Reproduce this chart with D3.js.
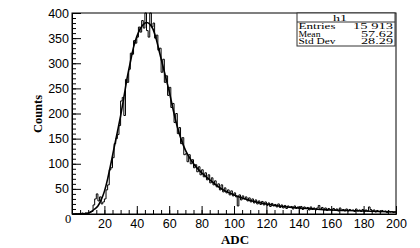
<!DOCTYPE html>
<html>
<head>
<meta charset="utf-8">
<script src="https://cdn.jsdelivr.net/npm/d3@7"></script>
<style>
  body { margin: 0; background: #fff; }
  svg { display: block; font-family: "Liberation Serif", "DejaVu Serif", serif; }
</style>
</head>
<body>
<div id="chart"></div>
<script>
// ADC histogram, one count per unit bin (0..199)
const counts = [
  0, 0, 1, 0, 1, 0, 2, 1, 2, 1,
  2, 4, 5, 18, 30, 40, 26, 34, 20, 24,
  30, 48, 58, 88, 92, 112, 140, 150, 158, 176,
  225, 232, 196, 268, 262, 288, 320, 318, 345, 340,
  352, 372, 362, 385, 370, 400, 365, 352, 400, 372,
  380, 350, 356, 326, 330, 282, 308, 262, 275, 236,
  252, 212, 220, 182, 200, 160, 172, 140, 152, 118,
  120, 104, 118, 100, 108, 92, 98, 84, 94, 78,
  88, 74, 82, 68, 78, 62, 72, 58, 66, 54,
  60, 48, 58, 44, 52, 42, 48, 38, 46, 36,
  42, 34, 16, 38, 28, 36, 30, 34, 26, 32,
  24, 30, 22, 28, 20, 26, 19, 25, 18, 24,
  17, 22, 15, 21, 16, 19, 14, 20, 13, 18,
  12, 17, 11, 16, 13, 15, 10, 16, 11, 14,
  10, 15, 9, 14, 11, 13, 8, 14, 9, 12,
  8, 12, 17, 9, 13, 8, 12, 7, 11, 9,
  7, 11, 8, 10, 6, 12, 7, 9, 6, 10,
  6, 9, 7, 8, 5, 10, 6, 8, 5, 9,
  5, 8, 6, 14, 9, 5, 8, 4, 7, 5,
  4, 7, 5, 6, 3, 6, 4, 5, 3, 4
];

// fitted curve
const fitX = [0, 5, 10, 12, 14, 16, 18, 20, 22, 24, 26, 28, 30, 32, 34, 36, 38, 40, 42, 44, 46, 48,
  50, 52, 54, 56, 58, 60, 62, 64, 66, 68, 70, 72, 75, 80, 85, 90, 95, 100, 105, 110, 115, 120,
  130, 140, 150, 160, 170, 180, 190, 200];
const fitY = [0, 0, 2, 5, 10, 16, 28, 45, 70, 100, 132, 163, 195, 232, 270, 302, 332, 353, 368, 377, 381, 378,
  368, 348, 322, 296, 270, 244, 214, 186, 162, 143, 127, 115, 100, 82, 68, 55, 45, 38, 32, 27, 23, 20,
  15, 12, 10, 8, 7, 6, 5, 4];

const xTicks = [20, 40, 60, 80, 100, 120, 140, 160, 180, 200];
const yTicks = [50, 100, 150, 200, 250, 300, 350, 400];

const statLabels = ["Entries", "Mean", "Std Dev"];
const statValues = ["15 913", "57.62", "28.29"];

const width = 420, height = 248;
const plotL = 72, plotR = 396, plotT = 13, plotB = 214;

const x = d3.scaleLinear().domain([0, 200]).range([plotL, plotR]);
const y = d3.scaleLinear().domain([0, 400]).range([plotB, plotT]);

const svg = d3.select("#chart").append("svg")
  .attr("width", width)
  .attr("height", height)
  .style("background", "#fff");

// frame
svg.append("rect")
  .attr("x", plotL).attr("y", plotT)
  .attr("width", plotR - plotL).attr("height", plotB - plotT)
  .attr("fill", "none").attr("stroke", "#000").attr("stroke-width", 1);

svg.append("clipPath").attr("id", "clip")
  .append("rect").attr("x", plotL).attr("y", plotT - 1)
  .attr("width", plotR - plotL).attr("height", plotB - plotT + 1);

// histogram outline
const steps = counts.map((c, i) => [i, c]);
steps.push([200, counts[counts.length - 1]]);
const stepLine = d3.line()
  .x(d => x(d[0]))
  .y(d => y(d[1]))
  .curve(d3.curveStepAfter);

svg.append("path")
  .datum(steps)
  .attr("clip-path", "url(#clip)")
  .attr("d", stepLine)
  .attr("fill", "none")
  .attr("stroke", "#000")
  .attr("stroke-width", 1);

// fit curve
const fitLine = d3.line()
  .x((d, i) => x(fitX[i]))
  .y(d => y(d))
  .curve(d3.curveMonotoneX);

svg.append("path")
  .datum(fitY)
  .attr("clip-path", "url(#clip)")
  .attr("d", fitLine)
  .attr("fill", "none")
  .attr("stroke", "#000")
  .attr("stroke-width", 1.6);

// axes: ticks point inward like ROOT
const fontSize = "12.5px";

const xMinor = svg.append("g")
  .attr("transform", `translate(0,${plotB})`)
  .call(d3.axisBottom(x).tickValues(d3.range(5, 200, 5)).tickSize(-4).tickFormat(""));
xMinor.select(".domain").remove();

const xAxis = svg.append("g")
  .attr("transform", `translate(0,${plotB})`)
  .call(d3.axisBottom(x).tickValues(xTicks).tickSize(-8).tickPadding(5));
xAxis.selectAll("text").style("font-size", fontSize).attr("fill", "#000");

const yMinor = svg.append("g")
  .attr("transform", `translate(${plotL},0)`)
  .call(d3.axisLeft(y).tickValues(d3.range(10, 400, 10)).tickSize(-4).tickFormat(""));
yMinor.select(".domain").remove();

const yAxis = svg.append("g")
  .attr("transform", `translate(${plotL},0)`)
  .call(d3.axisLeft(y).tickValues(yTicks).tickSize(-9).tickPadding(3));
yAxis.selectAll("text").style("font-size", fontSize).attr("fill", "#000");

svg.selectAll(".domain").attr("stroke", "#000");
svg.selectAll(".tick line").attr("stroke", "#000");

// shared zero at the corner
svg.append("text")
  .attr("x", x(0) - 4)
  .attr("y", y(0) + 9)
  .attr("text-anchor", "middle")
  .style("font-size", fontSize)
  .text("0");

// axis titles
svg.append("text")
  .attr("x", (plotL + plotR) / 2 + 1)
  .attr("y", 243.5)
  .attr("text-anchor", "middle")
  .style("font-size", "13px")
  .style("font-weight", "bold")
  .text("ADC");

svg.append("text")
  .attr("transform", "translate(42,114) rotate(-90)")
  .attr("text-anchor", "middle")
  .style("font-size", "12.5px")
  .style("font-weight", "bold")
  .text("Counts");

// stats box (text is wide and short in the reference)
const box = svg.append("g");
const bx0 = 297, bx1 = 395, by0 = 13, by1 = 46;
const rowY = [29, 36.6, 44.2];
const labelW = [37, 22, 37];
const valueW = [40, 32, 32];
const statFont = "7.2px";

box.append("rect")
  .attr("x", bx0).attr("y", by0)
  .attr("width", bx1 - bx0).attr("height", by1 - by0)
  .attr("fill", "#fff").attr("stroke", "#333").attr("stroke-width", 1);
box.append("line")
  .attr("x1", bx0).attr("x2", bx1)
  .attr("y1", 22).attr("y2", 22)
  .attr("stroke", "#333");
box.append("text")
  .attr("x", (bx0 + bx1) / 2 - 6)
  .attr("y", 20.5)
  .attr("text-anchor", "middle")
  .attr("textLength", 14)
  .attr("lengthAdjust", "spacingAndGlyphs")
  .style("font-size", statFont)
  .text("h1");

box.selectAll(".slabel")
  .data(statLabels)
  .join("text")
  .attr("class", "slabel")
  .attr("x", bx0 + 1.5)
  .attr("y", (d, i) => rowY[i])
  .attr("textLength", (d, i) => labelW[i])
  .attr("lengthAdjust", "spacingAndGlyphs")
  .style("font-size", statFont)
  .text(d => d);

box.selectAll(".svalue")
  .data(statValues)
  .join("text")
  .attr("class", "svalue")
  .attr("x", bx1 - 2)
  .attr("y", (d, i) => rowY[i])
  .attr("text-anchor", "end")
  .attr("textLength", (d, i) => valueW[i])
  .attr("lengthAdjust", "spacingAndGlyphs")
  .style("font-size", statFont)
  .text(d => d);
</script>
</body>
</html>
